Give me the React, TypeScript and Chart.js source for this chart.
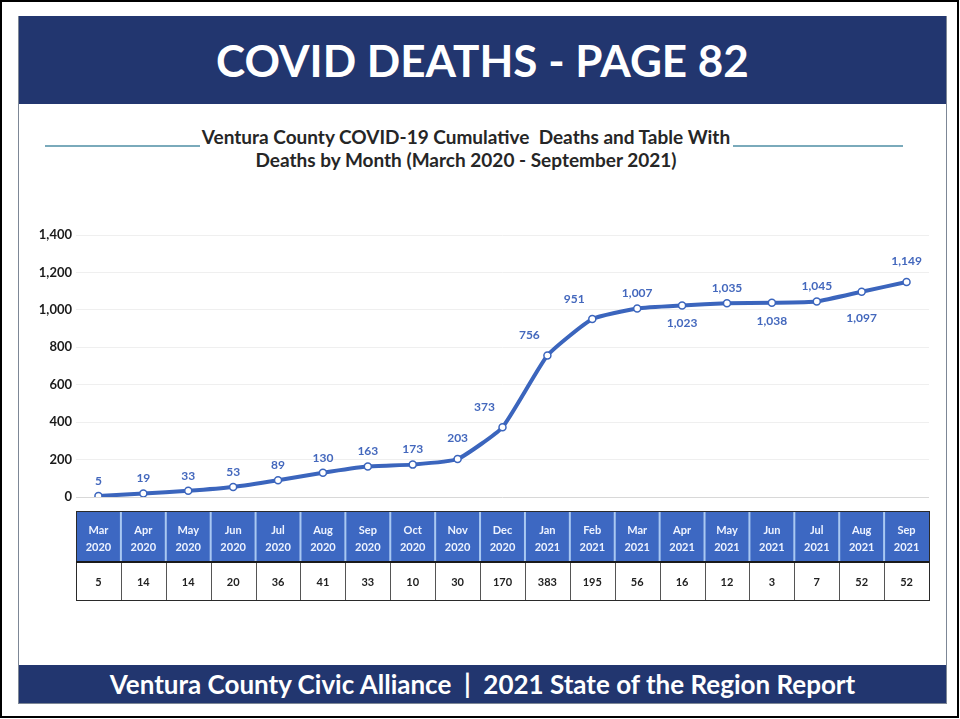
import React, { useEffect, useRef } from 'react';
import { Chart, registerables } from 'chart.js';

Chart.register(...registerables);

const months = ['Mar', 'Apr', 'May', 'Jun', 'Jul', 'Aug', 'Sep', 'Oct', 'Nov', 'Dec', 'Jan', 'Feb', 'Mar', 'Apr', 'May', 'Jun', 'Jul', 'Aug', 'Sep'];
const years = ['2020', '2020', '2020', '2020', '2020', '2020', '2020', '2020', '2020', '2020', '2021', '2021', '2021', '2021', '2021', '2021', '2021', '2021', '2021'];
const cumulativeDeaths = [5, 19, 33, 53, 89, 130, 163, 173, 203, 373, 756, 951, 1007, 1023, 1035, 1038, 1045, 1097, 1149];
const monthlyDeaths = [5, 14, 14, 20, 36, 41, 33, 10, 30, 170, 383, 195, 56, 16, 12, 3, 7, 52, 52];
const yTickMin = 0;
const yTickMax = 1400;
const yTickStep = 200;
const labelAnchors = ['top', 'top', 'top', 'top', 'top', 'top', 'top', 'top', 'topHigh', 'topLeft', 'topLeft', 'topLeft', 'top', 'bottom', 'top', 'bottom', 'top', 'bottomLow', 'topHigh'];

const FONT = 'Lato, "Open Sans", sans-serif';
const fmt = (v: number) => v.toLocaleString('en-US');

const dataLabelPlugin = {
  id: 'pointLabels',
  afterDatasetsDraw(chart: any) {
    const ctx = chart.ctx;
    const meta = chart.getDatasetMeta(0);
    ctx.save();
    ctx.font = `bold 12px ${FONT}`;
    ctx.fillStyle = '#4468bd';
    ctx.textAlign = 'center';
    ctx.textBaseline = 'middle';
    meta.data.forEach((pt: any, i: number) => {
      const a = labelAnchors[i];
      let dx = 0;
      let dy = -15;
      if (a === 'topHigh') dy = -21;
      if (a === 'bottom') dy = 18;
      if (a === 'bottomLow') dy = 26;
      if (a === 'topLeft') { dx = -18; dy = -20; }
      ctx.fillText(fmt(cumulativeDeaths[i]), pt.x + dx, pt.y + dy);
    });
    ctx.restore();
  },
};

const tablePlugin = {
  id: 'monthTable',
  afterDraw(chart: any) {
    const ctx = chart.ctx;
    const xs = chart.scales.x;
    const n = months.length;
    const w = xs.getPixelForValue(1) - xs.getPixelForValue(0);
    const left = xs.getPixelForValue(0) - w / 2;
    const right = left + w * n;
    const base = chart.chartArea.bottom;
    const hTop = base + 14;
    const hBot = base + 65;
    const vBot = base + 103;
    ctx.save();
    ctx.fillStyle = '#3d68c2';
    ctx.fillRect(left, hTop, right - left, hBot - hTop);
    ctx.fillStyle = '#ffffff';
    ctx.fillRect(left, hBot, right - left, vBot - hBot);
    ctx.strokeStyle = '#a9c8f2';
    ctx.lineWidth = 2;
    for (let i = 1; i < n; i++) {
      const x = left + w * i;
      ctx.beginPath();
      ctx.moveTo(x, hTop + 1);
      ctx.lineTo(x, hBot);
      ctx.stroke();
    }
    ctx.strokeStyle = '#555';
    ctx.lineWidth = 1;
    for (let i = 1; i < n; i++) {
      const x = Math.round(left + w * i) + 0.5;
      ctx.beginPath();
      ctx.moveTo(x, hBot);
      ctx.lineTo(x, vBot);
      ctx.stroke();
    }
    ctx.strokeStyle = '#2a2a2a';
    ctx.lineWidth = 1;
    ctx.strokeRect(Math.round(left) + 0.5, Math.round(hTop) + 0.5, Math.round(right - left), Math.round(vBot - hTop));
    ctx.lineWidth = 2;
    ctx.strokeStyle = '#1a1a1a';
    ctx.beginPath();
    ctx.moveTo(left, hBot);
    ctx.lineTo(right, hBot);
    ctx.stroke();
    ctx.textAlign = 'center';
    ctx.textBaseline = 'middle';
    ctx.font = `bold 11px ${FONT}`;
    ctx.fillStyle = '#eef3ff';
    for (let i = 0; i < n; i++) {
      const cx = left + w * (i + 0.5);
      ctx.fillText(months[i], cx, hTop + 19);
      ctx.fillText(years[i], cx, hTop + 36);
    }
    ctx.font = `bold 11px ${FONT}`;
    ctx.fillStyle = '#222';
    for (let i = 0; i < n; i++) {
      const cx = left + w * (i + 0.5);
      ctx.fillText(String(monthlyDeaths[i]), cx, (hBot + vBot) / 2 + 1);
    }
    ctx.restore();
  },
};

function CovidChart() {
  const ref = useRef<HTMLCanvasElement>(null);
  useEffect(() => {
    if (!ref.current) return;
    const chart = new Chart(ref.current, {
      type: 'line',
      data: {
        labels: months.map((m, i) => `${m} ${years[i]}`),
        datasets: [
          {
            label: 'Cumulative Deaths',
            data: cumulativeDeaths,
            borderColor: '#3b65bd',
            borderWidth: 4,
            tension: 0.15,
            pointRadius: 3.5,
            pointBackgroundColor: '#ffffff',
            pointBorderColor: '#3b65bd',
            pointBorderWidth: 1.5,
            fill: false,
          },
        ],
      },
      options: {
        responsive: false,
        animation: false,
        layout: { padding: { left: 0, right: 17, top: 130, bottom: 168 } },
        plugins: { legend: { display: false }, tooltip: { enabled: false }, title: { display: false } },
        scales: {
          x: {
            type: 'category',
            offset: true,
            display: false,
          },
          y: {
            min: yTickMin,
            max: yTickMax,
            afterFit: (s: any) => { s.width = 57; },
            ticks: {
              stepSize: yTickStep,
              padding: 4,
              color: '#1a1a1a',
              font: { family: FONT, size: 13, weight: 'bold' },
              callback: (v: any) => fmt(Number(v)),
            },
            grid: {
              drawTicks: false,
              color: (c: any) => (c.tick && c.tick.value === 0 ? '#d8d8d8' : '#efefef'),
            },
            border: { display: false },
          },
        },
      },
      plugins: [dataLabelPlugin, tablePlugin],
    } as any);
    return () => chart.destroy();
  }, []);
  return <canvas ref={ref} width={927} height={560} style={{ width: 927, height: 560, display: 'block' }} />;
}

export default function App() {
  return (
    <div style={{ position: 'fixed', left: 0, top: 0, width: 960, height: 719, background: '#fff', overflow: 'hidden', fontFamily: FONT }}>
      <div style={{ position: 'absolute', left: 0, top: 0, width: 959, height: 718, border: '2px solid #000', boxSizing: 'border-box' }} />
      <div style={{ position: 'absolute', left: 18, top: 16, width: 929, height: 688, border: '1px solid #7d8796', boxSizing: 'border-box' }} />
      <div style={{ position: 'absolute', left: 19, top: 16, width: 927, height: 88, background: '#22366f', color: '#fff', display: 'flex', alignItems: 'center', justifyContent: 'center', fontSize: 44, fontWeight: 700 }}>
        COVID DEATHS - PAGE 82
      </div>
      <div style={{ position: 'absolute', left: 45, top: 145, width: 155, height: 2, background: '#7aaabb' }} />
      <div style={{ position: 'absolute', left: 733, top: 145, width: 170, height: 2, background: '#7aaabb' }} />
      <div style={{ position: 'absolute', left: 0, top: 125, width: 932, textAlign: 'center', fontSize: 19, lineHeight: '23px', fontWeight: 700, color: '#262626', whiteSpace: 'pre' }}>
        {'Ventura County COVID-19 Cumulative  Deaths and Table With\nDeaths by Month (March 2020 - September 2021)'}
      </div>
      <div style={{ position: 'absolute', left: 19, top: 105 }}>
        <CovidChart />
      </div>
      <div style={{ position: 'absolute', left: 19, top: 665, width: 927, height: 38, background: '#22366f', color: '#fff', display: 'flex', alignItems: 'center', justifyContent: 'center', fontSize: 26, fontWeight: 700, whiteSpace: 'pre' }}>
        {'Ventura County Civic Alliance  |  2021 State of the Region Report'}
      </div>
    </div>
  );
}
